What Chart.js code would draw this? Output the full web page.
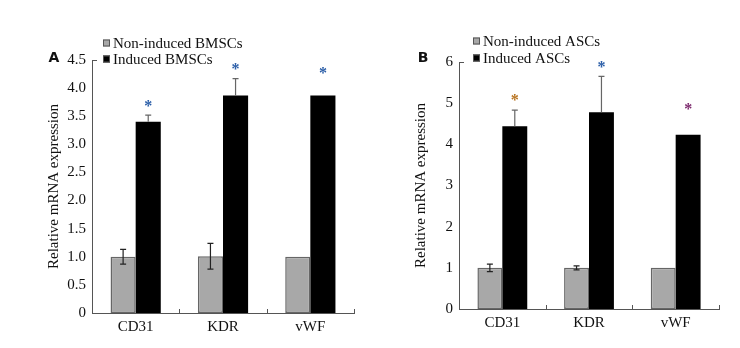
<!DOCTYPE html>
<html>
<head>
<meta charset="utf-8">
<script src="https://cdn.jsdelivr.net/npm/chart.js@4.4.0/dist/chart.umd.min.js"></script>
<style>
  html, body { margin: 0; padding: 0; background: #fff; }
  #wrap { position: relative; width: 740px; height: 348px; }
  .panel { position: absolute; top: 0; width: 370px; height: 348px; }
</style>
</head>
<body>
<div id="wrap">
  <div class="panel" style="left:0"><canvas id="chartA" width="370" height="348"></canvas></div>
  <div class="panel" style="left:370px"><canvas id="chartB" width="370" height="348"></canvas></div>
</div>
<script>
// 공통 카테고리
const genes = ["CD31", "KDR", "vWF"];

// Panel A - BMSCs
const nonInducedA = [1.0, 1.01, 1.0];
const nonInducedErrA = [0.13, 0.23, 0];
const inducedA = [3.40, 3.87, 3.87];
const inducedErrA = [0.12, 0.30, 0];
const starLevelA = [3.74, 4.40, 4.32];
const starColorA = ["#2b5ea8", "#2b5ea8", "#2b5ea8"];
const ticksA = [0, 0.5, 1.0, 1.5, 2.0, 2.5, 3.0, 3.5, 4.0, 4.5];
const tickLabelsA = ["0", "0.5", "1.0", "1.5", "2.0", "2.5", "3.0", "3.5", "4.0", "4.5"];

// Panel B - ASCs
const nonInducedB = [1.0, 1.0, 1.0];
const nonInducedErrB = [0.09, 0.05, 0];
const inducedB = [4.44, 4.78, 4.23];
const inducedErrB = [0.39, 0.87, 0];
const starLevelB = [5.15, 5.95, 4.93];
const starColorB = ["#b8731f", "#2b5ea8", "#7d2a6e"];
const ticksB = [0, 1, 2, 3, 4, 5, 6];
const tickLabelsB = ["0", "1", "2", "3", "4", "5", "6"];

const SERIF = "'Liberation Serif', 'Times New Roman', serif";
const GRAY = "#a8a8a8";

// ✅ 에러바, 별표, 범례, 패널 문자 그리기
function makeOverlay(cfg) {
    return {
        id: "overlay" + cfg.letter,
        afterDatasetsDraw(chart) {
            const ctx = chart.ctx;
            const y = chart.scales.y;
            const area = chart.chartArea;
            ctx.save();

            // error bars
            const drawErr = (dsIndex, vals, errs, twoSided, color) => {
                const meta = chart.getDatasetMeta(dsIndex);
                vals.forEach((v, i) => {
                    if (!errs[i]) return;
                    const bx = meta.data[i].x;
                    const top = y.getPixelForValue(v + errs[i]);
                    const bot = twoSided ? y.getPixelForValue(v - errs[i]) : y.getPixelForValue(v);
                    ctx.strokeStyle = color;
                    ctx.lineWidth = 1.2;
                    ctx.beginPath();
                    ctx.moveTo(bx, bot);
                    ctx.lineTo(bx, top);
                    ctx.moveTo(bx - 3, top);
                    ctx.lineTo(bx + 3, top);
                    if (twoSided) {
                        ctx.moveTo(bx - 3, bot);
                        ctx.lineTo(bx + 3, bot);
                    }
                    ctx.stroke();
                });
            };
            drawErr(0, cfg.nonInduced, cfg.nonInducedErr, true, "#222");
            drawErr(1, cfg.induced, cfg.inducedErr, false, "#666");

            // stars
            const meta1 = chart.getDatasetMeta(1);
            ctx.font = "bold 16px " + SERIF;
            ctx.textAlign = "center";
            ctx.textBaseline = "middle";
            cfg.starLevel.forEach((lv, i) => {
                ctx.fillStyle = cfg.starColor[i];
                ctx.fillText("*", meta1.data[i].x, y.getPixelForValue(lv) + 4);
            });

            // axis small ticks
            ctx.strokeStyle = "#555";
            ctx.lineWidth = 1;
            ctx.beginPath();
            ctx.moveTo(area.left, area.top + 0.5);
            ctx.lineTo(area.left + 5, area.top + 0.5);
            const step = (area.right - area.left) / genes.length;
            for (let i = 1; i <= genes.length; i++) {
                const tx = Math.round(area.left + step * i) + 0.5;
                ctx.moveTo(tx, area.bottom);
                ctx.lineTo(tx, area.bottom - 4);
            }
            ctx.stroke();

            // legend
            ctx.font = "15px " + SERIF;
            ctx.textAlign = "left";
            ctx.textBaseline = "middle";
            cfg.legend.forEach((item, i) => {
                const ly = cfg.legendY[i];
                ctx.fillStyle = item.fill;
                ctx.fillRect(cfg.legendX, ly - 3.5, 7, 7);
                ctx.strokeStyle = "#555";
                ctx.strokeRect(cfg.legendX + 0.5, ly - 3, 6, 6);
                ctx.fillStyle = "#111";
                ctx.fillText(item.text, cfg.legendX + 10, ly + 1);
            });

            // panel letter
            ctx.font = "bold 14px 'DejaVu Sans', Arial, sans-serif";
            ctx.fillStyle = "#111";
            ctx.textAlign = "center";
            ctx.fillText(cfg.letter, cfg.letterX, cfg.letterY);

            ctx.restore();
        }
    };
}

// ✅ 차트 생성
function drawPanel(canvasId, cfg) {
    const ctx = document.getElementById(canvasId).getContext("2d");
    return new Chart(ctx, {
        type: "bar",
        data: {
            labels: genes,
            datasets: [
                {
                    label: cfg.legend[0].text,
                    data: cfg.nonInduced,
                    backgroundColor: GRAY,
                    borderColor: "#666",
                    borderWidth: 1.5,
                    borderSkipped: false
                },
                {
                    label: cfg.legend[1].text,
                    data: cfg.induced,
                    backgroundColor: "#000",
                    borderColor: "#000",
                    borderWidth: 0
                }
            ]
        },
        options: {
            responsive: false,
            animation: false,
            layout: { padding: cfg.padding },
            datasets: { bar: { categoryPercentage: 0.575, barPercentage: 1.0 } },
            plugins: { legend: { display: false }, tooltip: { enabled: false } },
            scales: {
                x: {
                    grid: { display: false },
                    border: { display: true, color: "#555", width: 1 },
                    ticks: { color: "#111", font: { family: SERIF, size: 15 }, padding: -3 },
                    afterFit: (s) => { s.height = cfg.xHeight; }
                },
                y: {
                    min: 0,
                    max: cfg.ticks[cfg.ticks.length - 1],
                    afterBuildTicks: (s) => { s.ticks = cfg.ticks.map((v) => ({ value: v })); },
                    grid: { display: false },
                    border: { display: true, color: "#555", width: 1 },
                    ticks: {
                        color: "#111",
                        font: { family: SERIF, size: 15 },
                        padding: -2,
                        callback: (v) => cfg.tickLabels[cfg.ticks.indexOf(v)]
                    },
                    title: {
                        display: true,
                        text: "Relative mRNA expression",
                        color: "#111",
                        font: { family: SERIF, size: 15 },
                        padding: 0
                    },
                    afterFit: (s) => { s.width = cfg.yWidth; }
                }
            }
        },
        plugins: [makeOverlay(cfg)]
    });
}

drawPanel("chartA", {
    letter: "A", letterX: 54, letterY: 58,
    nonInduced: nonInducedA, nonInducedErr: nonInducedErrA,
    induced: inducedA, inducedErr: inducedErrA,
    starLevel: starLevelA, starColor: starColorA,
    ticks: ticksA, tickLabels: tickLabelsA,
    legend: [{ text: "Non-induced BMSCs", fill: GRAY }, { text: "Induced BMSCs", fill: "#000" }],
    legendX: 103, legendY: [43, 59],
    padding: { left: 45, top: 60, right: 16, bottom: 0 },
    yWidth: 47, xHeight: 35
});

drawPanel("chartB", {
    letter: "B", letterX: 53, letterY: 58,
    nonInduced: nonInducedB, nonInducedErr: nonInducedErrB,
    induced: inducedB, inducedErr: inducedErrB,
    starLevel: starLevelB, starColor: starColorB,
    ticks: ticksB, tickLabels: tickLabelsB,
    legend: [{ text: "Non-induced ASCs", fill: GRAY }, { text: "Induced ASCs", fill: "#000" }],
    legendX: 103, legendY: [41, 58],
    padding: { left: 42, top: 62, right: 21, bottom: 0 },
    yWidth: 47, xHeight: 39
});
</script>
</body>
</html>
